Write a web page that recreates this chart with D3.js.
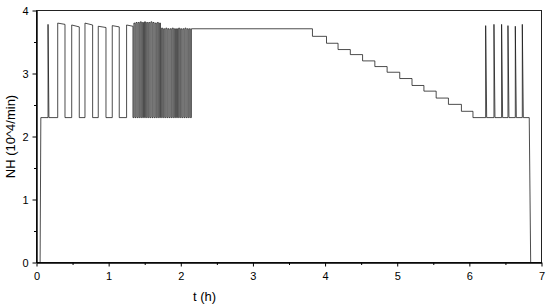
<!DOCTYPE html>
<html>
<head>
<meta charset="utf-8">
<script src="https://cdn.jsdelivr.net/npm/d3@7"></script>
<style>
  body { margin: 0; background: #fff; }
  svg { display: block; font-family: "Liberation Sans", Arial, sans-serif; }
</style>
</head>
<body>
<div id="wrapper"></div>
<script>
// base level between pulses
const baseLevel = 2.3;

// start-up: off until this time, then at base level
const startTimes = [0, 0.05, 0.06];
const startValues = [0, 0, 2.3];

// first narrow spike
const spikeOn = [0.160];
const spikeOff = [0.172];
const spikePeak = [3.78];

// wide pulses (rise time, fall time, overshoot peak, plateau level)
const pulseOn = [0.294, 0.488, 0.672, 0.856, 1.050, 1.249];
const pulseOff = [0.395, 0.593, 0.778, 0.963, 1.147, 1.337];
const pulsePeak = [3.80, 3.77, 3.80, 3.75, 3.76, 3.77];
const pulseLevel = [3.78, 3.74, 3.77, 3.73, 3.74, 3.75];

// fast cycling, first block (higher amplitude)
const denseOnA = [1.350, 1.379, 1.409, 1.438, 1.468, 1.497, 1.527, 1.556, 1.586, 1.615, 1.645, 1.674, 1.704];
const denseOffA = [1.365, 1.394, 1.424, 1.453, 1.483, 1.512, 1.542, 1.571, 1.601, 1.630, 1.660, 1.689, 1.719];
const densePeakA = [3.80, 3.81, 3.81, 3.82, 3.81, 3.82, 3.81, 3.81, 3.82, 3.81, 3.80, 3.81, 3.80];

// fast cycling, second block
const denseOnB = [1.734, 1.763, 1.793, 1.822, 1.852, 1.881, 1.911, 1.940, 1.970, 1.999, 2.029, 2.058, 2.088, 2.117];
const denseOffB = [1.749, 1.778, 1.808, 1.837, 1.867, 1.896, 1.926, 1.955, 1.985, 2.014, 2.044, 2.073, 2.103, 2.132];
const densePeakB = [3.72, 3.71, 3.72, 3.71, 3.71, 3.72, 3.71, 3.71, 3.72, 3.71, 3.71, 3.72, 3.71, 3.71];

// long hold and staircase down
const stairTimes = [2.147, 3.825, 4.02, 4.18, 4.35, 4.52, 4.69, 4.86, 5.035, 5.205, 5.37, 5.54, 5.71, 5.89, 6.05];
const stairLevels = [3.71, 3.59, 3.48, 3.38, 3.30, 3.20, 3.11, 3.02, 2.92, 2.81, 2.72, 2.61, 2.51, 2.40, 2.30];

// spikes near the end
const endSpikeOn = [6.226, 6.341, 6.447, 6.535, 6.637, 6.734];
const endSpikeOff = [6.240, 6.355, 6.461, 6.549, 6.651, 6.748];
const endSpikePeak = [3.76, 3.78, 3.78, 3.76, 3.75, 3.78];

// shut-down
const stopTimes = [6.83, 6.85];
const stopValues = [2.3, 0];

// axis ticks
const xTicks = [0, 1, 2, 3, 4, 5, 6, 7];
const xMinorTicks = [0.5, 1.5, 2.5, 3.5, 4.5, 5.5, 6.5];
const yTicks = [0, 1, 2, 3, 4];
const yMinorTicks = [0.5, 1.5, 2.5, 3.5];

// assemble the trace as a list of points
const points = [];
startTimes.forEach((t, i) => points.push([t, startValues[i]]));
spikeOn.forEach((t, i) => {
    points.push([t, baseLevel], [t, spikePeak[i]], [spikeOff[i], baseLevel]);
});
pulseOn.forEach((t, i) => {
    points.push([t, baseLevel], [t, pulsePeak[i]], [pulseOff[i], pulseLevel[i]], [pulseOff[i], baseLevel]);
});
denseOnA.forEach((t, i) => {
    points.push([t, baseLevel], [t, densePeakA[i]], [denseOffA[i], densePeakA[i]], [denseOffA[i], baseLevel]);
});
denseOnB.forEach((t, i) => {
    points.push([t, baseLevel], [t, densePeakB[i]], [denseOffB[i], densePeakB[i]], [denseOffB[i], baseLevel]);
});
stairTimes.forEach((t, i) => {
    if (i === 0) points.push([t, baseLevel]);
    else points.push([t, stairLevels[i - 1]]);
    points.push([t, stairLevels[i]]);
});
endSpikeOn.forEach((t, i) => {
    points.push([t, baseLevel], [t, endSpikePeak[i]], [endSpikeOff[i], baseLevel]);
});
stopTimes.forEach((t, i) => points.push([t, stopValues[i]]));

// dimensions
const dimensions = {
    width: 550,
    height: 307,
    margin: {top: 10.5, right: 8.5, bottom: 44.5, left: 36.5},
};
dimensions.boundedWidth = dimensions.width - dimensions.margin.left - dimensions.margin.right;
dimensions.boundedHeight = dimensions.height - dimensions.margin.top - dimensions.margin.bottom;

const wrapper = d3.select("#wrapper")
    .append("svg")
    .attr("width", dimensions.width)
    .attr("height", dimensions.height);

const bounds = wrapper.append("g")
    .attr("transform", `translate(${dimensions.margin.left}, ${dimensions.margin.top})`);

const xScale = d3.scaleLinear()
    .domain([0, 7])
    .range([0, dimensions.boundedWidth]);

const yScale = d3.scaleLinear()
    .domain([0, 4])
    .range([dimensions.boundedHeight, 0]);

// frame
bounds.append("rect")
    .attr("width", dimensions.boundedWidth)
    .attr("height", dimensions.boundedHeight)
    .attr("fill", "none")
    .attr("stroke", "#222")
    .attr("stroke-width", 1);

// trace
const lineGenerator = d3.line()
    .x(d => xScale(d[0]))
    .y(d => yScale(d[1]));

bounds.append("path")
    .datum(points)
    .attr("d", lineGenerator)
    .attr("fill", "none")
    .attr("stroke", "#111")
    .attr("stroke-width", 0.75)
    .attr("stroke-linejoin", "miter");

// axes
bounds.append("g")
    .attr("transform", `translate(0, ${dimensions.boundedHeight})`)
    .call(d3.axisBottom(xScale).tickValues(xTicks).tickFormat(d3.format("d")).tickSizeInner(4).tickSizeOuter(0).tickPadding(6));
bounds.append("g")
    .attr("transform", `translate(0, ${dimensions.boundedHeight})`)
    .call(d3.axisBottom(xScale).tickValues(xMinorTicks).tickFormat("").tickSizeInner(2.5).tickSizeOuter(0))
    .select(".domain").remove();

bounds.append("g")
    .call(d3.axisLeft(yScale).tickValues(yTicks).tickFormat(d3.format("d")).tickSizeInner(4).tickSizeOuter(0).tickPadding(4));
bounds.append("g")
    .call(d3.axisLeft(yScale).tickValues(yMinorTicks).tickFormat("").tickSizeInner(2.5).tickSizeOuter(0))
    .select(".domain").remove();

wrapper.selectAll(".domain").attr("stroke", "#000").attr("stroke-width", 1.4);
wrapper.selectAll(".tick line").attr("stroke", "#000").attr("stroke-width", 1);
wrapper.selectAll(".tick text")
    .attr("font-size", 11)
    .attr("font-family", "Liberation Sans, Arial, sans-serif")
    .attr("fill", "#000");

// axis titles
wrapper.append("text")
    .attr("x", dimensions.margin.left + xScale(2.33))
    .attr("y", 301)
    .attr("text-anchor", "middle")
    .attr("font-size", 13)
    .text("t (h)");

wrapper.append("text")
    .attr("transform", `translate(15, ${dimensions.margin.top + yScale(2)}) rotate(-90)`)
    .attr("text-anchor", "middle")
    .attr("font-size", 13)
    .text("NH (10^4/min)");
</script>
</body>
</html>
